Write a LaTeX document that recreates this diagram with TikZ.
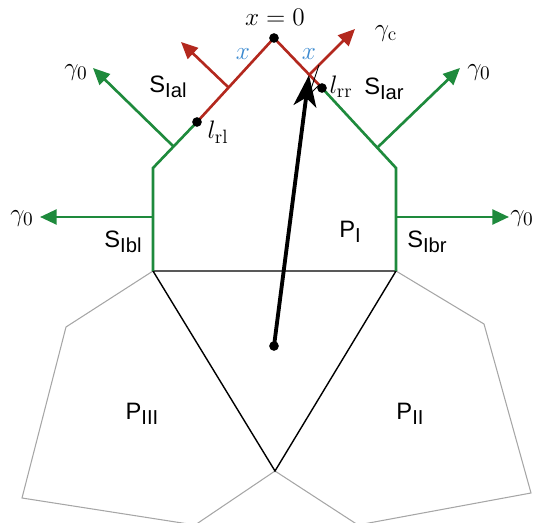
\documentclass[tikz,border=0pt]{standalone}
\usepackage{fontspec}
\setsansfont{Liberation Sans}
\usepackage{amsmath}
\usetikzlibrary{arrows.meta,calc}
\definecolor{wallgreen}{HTML}{1E8A3C}
\definecolor{wallred}{HTML}{B3281E}
\definecolor{arcblue}{HTML}{3A89CF}
\definecolor{cellgray}{HTML}{A6A6A6}
\DeclareMathSizes{14}{14}{11}{9}
\newcommand{\lsub}[1]{\raisebox{-2.8pt}{\fontsize{11.5}{12}\selectfont #1}}

\begin{document}
\begin{tikzpicture}[x=0.02cm,y=-0.02cm,every node/.style={font=\fontsize{14}{16}\selectfont,inner sep=1pt},lab/.style={font=\sffamily\fontsize{13.5}{16}\selectfont},wall/.style={draw=#1,line width=1.5pt},normal/.style={draw=#1,line width=1.5pt,-{Triangle[length=9.5pt,width=8.5pt]}},cell/.style={draw=cellgray,line width=0.6pt},dot/.style={circle,fill=black,inner sep=0pt,minimum size=5.5pt}]
\useasboundingbox (0,0) rectangle (537,523);
\clip (0,0) rectangle (537,523);
% corners of the cells
\coordinate (top) at (274,38);
\coordinate (lrl) at (197,122);
\coordinate (kl) at (153,168);
\coordinate (bl) at (153,271);
\coordinate (lrr) at (322,88);
\coordinate (kr) at (396,168);
\coordinate (br) at (396,271);
\coordinate (bot) at (275,471);
\coordinate (cen) at (274,346);
% origins and ends of the normals
\coordinate (ol) at (228,87);
\coordinate (el) at (181,42);
\coordinate (oc) at (309,75);
\coordinate (ec) at (355,29);
\coordinate (ga) at (173,146);
\coordinate (gae) at (93,68);
\coordinate (gb) at (153,217);
\coordinate (gbe) at (40,217);
\coordinate (gc) at (378,147);
\coordinate (gce) at (460,68);
\coordinate (gd) at (396,217);
\coordinate (gde) at (509,217);
% neighbour cells
\draw[cell] (bl) -- (66,327) -- (22,498) -- (195,525) -- (bot);
\draw[cell] (br) -- (484,324) -- (531,493) -- (358,525) -- (bot);
\draw[line width=0.8pt] (bl) -- (br) -- (bot) -- cycle;
% boundary of P_I
\draw[wall=wallgreen] (lrl) -- (kl) -- (bl);
\draw[wall=wallgreen] (lrr) -- (kr) -- (br);
\draw[wall=wallred] (lrl) -- (top) -- (lrr);
\draw[normal=wallred] (ol) -- (el);
\draw[normal=wallred] (oc) -- (ec);
\draw[normal=wallgreen] (ga) -- (gae);
\draw[normal=wallgreen] (gb) -- (gbe);
\draw[normal=wallgreen] (gc) -- (gce);
\draw[normal=wallgreen] (gd) -- (gde);
\draw[line width=0.5pt] ($(oc)!8pt!(lrr)$) -- ($(oc)!8pt!(lrr)!8pt!90:(oc)$) -- ($(oc)!8pt!(ec)$);
\draw[line width=2.2pt,-{Stealth[length=18pt,width=13pt,inset=5pt]}] (cen) -- (oc);
\node[dot] (dtop) at (top) {};
\node[dot] (dlrl) at (lrl) {};
\node[dot] (dlrr) at (lrr) {};
\node[dot] (dcen) at (cen) {};
% labels
\node (xzero) at (275,17) {$x=0$};
\node[text=arcblue] (xl) at (243,54) {$x$};
\node[text=arcblue] (xr) at (309,54) {$x$};
\node (gamc) at (386,34) {$\gamma_{\mathrm{c}}$};
\node (llrl) at (218,132) {$l_{\mathrm{rl}}$};
\node (llrr) at (341,87) {$l_{\mathrm{rr}}$};
\node (gama) at (76,73) {$\gamma_0$};
\node (gamb) at (22,219) {$\gamma_0$};
\node (gamc0) at (479,73) {$\gamma_0$};
\node (gamd) at (522,219) {$\gamma_0$};
\node[lab] (sial) at (168,87) {S\lsub{Ial}};
\node[lab] (siar) at (384,89) {S\lsub{Iar}};
\node[lab] (sibl) at (123,242) {S\lsub{Ibl}};
\node[lab] (sibr) at (427,242) {S\lsub{Ibr}};
\node[lab] (pone) at (350,232) {P\lsub{I}};
\node[lab] (pthree) at (142,414) {P\lsub{III}};
\node[lab] (ptwo) at (410,414) {P\lsub{II}};
\end{tikzpicture}
\end{document}
